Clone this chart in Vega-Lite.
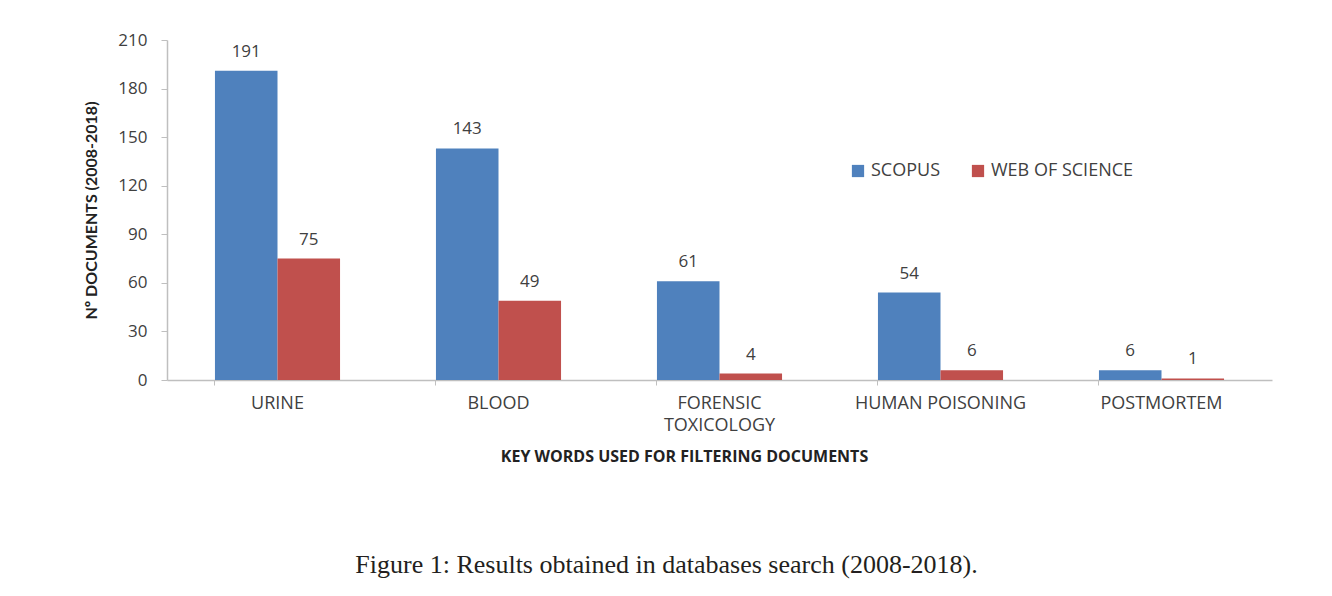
{
  "$schema": "https://vega.github.io/schema/vega-lite/v6.json",
  "width": 1105,
  "height": 340,
  "autosize": "none",
  "padding": {"left": 167, "top": 40, "right": 60, "bottom": 216},
  "background": "white",
  "title": {
    "text": "Figure 1: Results obtained in databases search (2008-2018).",
    "orient": "bottom",
    "anchor": "middle",
    "dx": -53,
    "offset": 88,
    "font": "Liberation Serif",
    "fontSize": 26,
    "fontWeight": "normal",
    "color": "#231f20"
  },
  "data": {
    "values": [
      {"keyword": "URINE", "source": "SCOPUS", "value": 191},
      {"keyword": "URINE", "source": "WEB OF SCIENCE", "value": 75},
      {"keyword": "BLOOD", "source": "SCOPUS", "value": 143},
      {"keyword": "BLOOD", "source": "WEB OF SCIENCE", "value": 49},
      {"keyword": "FORENSIC TOXICOLOGY", "source": "SCOPUS", "value": 61},
      {"keyword": "FORENSIC TOXICOLOGY", "source": "WEB OF SCIENCE", "value": 4},
      {"keyword": "HUMAN POISONING", "source": "SCOPUS", "value": 54},
      {"keyword": "HUMAN POISONING", "source": "WEB OF SCIENCE", "value": 6},
      {"keyword": "POSTMORTEM", "source": "SCOPUS", "value": 6},
      {"keyword": "POSTMORTEM", "source": "WEB OF SCIENCE", "value": 1}
    ]
  },
  "encoding": {
    "x": {
      "field": "keyword",
      "type": "nominal",
      "sort": null,
      "scale": {"paddingInner": 0.434, "paddingOuter": 0.217},
      "axis": {
        "title": "KEY WORDS USED FOR FILTERING DOCUMENTS",
        "titleFont": "Open Sans",
        "titleFontSize": 16,
        "titleFontWeight": "bold",
        "titleColor": "#222222",
        "titleX": 517,
        "titlePadding": 14,
        "labelAngle": 0,
        "labelFont": "Open Sans",
        "labelFontSize": 18,
        "labelColor": "#404040",
        "labelPadding": 9,
        "labelLineHeight": 22,
        "labelExpr": "datum.value == 'FORENSIC TOXICOLOGY' ? ['FORENSIC', 'TOXICOLOGY'] : datum.value",
        "bandPosition": 0,
        "tickSize": 5,
        "tickColor": "#bfbfbf",
        "domainColor": "#bfbfbf",
        "domainWidth": 1.5,
        "grid": false
      }
    },
    "xOffset": {"field": "source", "type": "nominal", "sort": ["SCOPUS", "WEB OF SCIENCE"]},
    "y": {
      "field": "value",
      "type": "quantitative",
      "scale": {"domain": [0, 210], "nice": false},
      "axis": {
        "title": "Nº DOCUMENTS (2008-2018)",
        "titleFont": "Lato",
        "titleFontSize": 16,
        "titleFontWeight": "bold",
        "titleColor": "#222222",
        "titlePadding": 18,
        "values": [0, 30, 60, 90, 120, 150, 180, 210],
        "labelFont": "Open Sans",
        "labelFontSize": 17,
        "labelColor": "#404040",
        "labelPadding": 14,
        "tickSize": 6,
        "tickColor": "#bfbfbf",
        "domainColor": "#bfbfbf",
        "domainWidth": 1.5,
        "grid": false
      }
    }
  },
  "layer": [
    {
      "mark": {"type": "bar"},
      "encoding": {
        "color": {
          "field": "source",
          "type": "nominal",
          "sort": ["SCOPUS", "WEB OF SCIENCE"],
          "scale": {"domain": ["SCOPUS", "WEB OF SCIENCE"], "range": ["#4f81bd", "#c0504d"]},
          "legend": {
            "title": null,
            "orient": "none",
            "legendX": 682,
            "legendY": 122,
            "direction": "horizontal",
            "symbolType": "square",
            "symbolSize": 150,
            "symbolStrokeWidth": 0,
            "labelFont": "Open Sans",
            "labelFontSize": 18,
            "labelColor": "#404040",
            "columnPadding": 28
          }
        }
      }
    },
    {
      "mark": {"type": "text", "baseline": "bottom", "dy": -10, "font": "Open Sans", "fontSize": 17, "color": "#404040"},
      "encoding": {"text": {"field": "value", "type": "quantitative"}}
    }
  ],
  "config": {
    "view": {"stroke": null}
  }
}
